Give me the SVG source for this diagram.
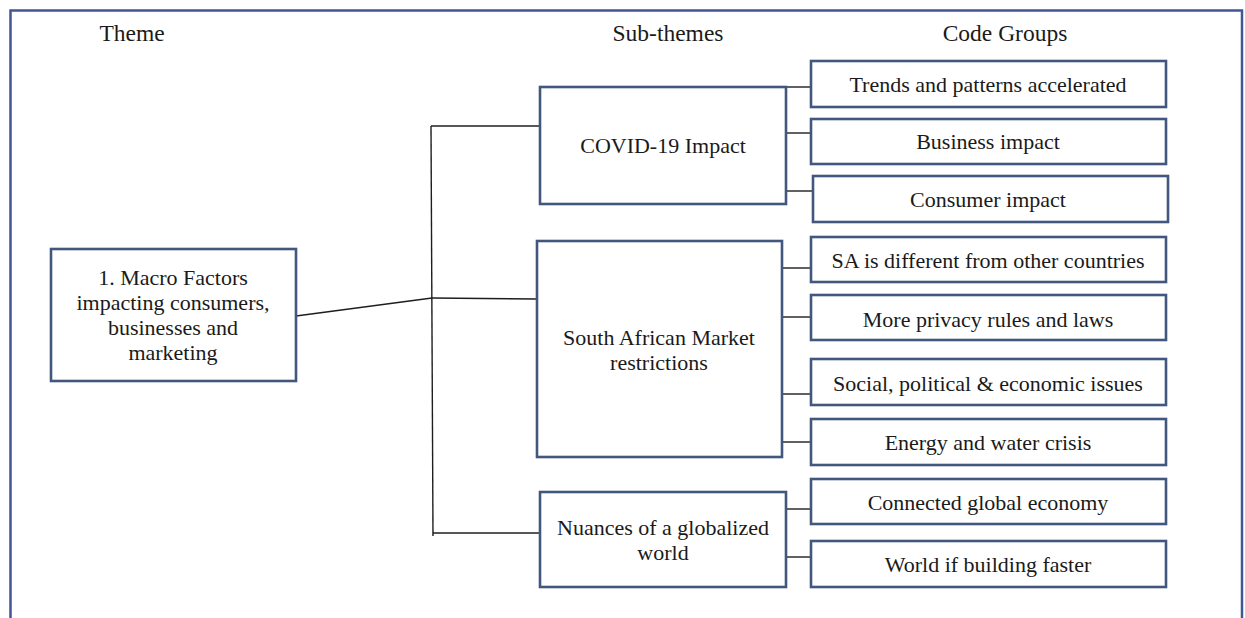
<svg xmlns="http://www.w3.org/2000/svg" width="1245" height="618" viewBox="0 0 1245 618">
  <style>
    .frame { fill: none; stroke: #3f5797; stroke-width: 2.5; }
    .box { fill: #ffffff; stroke: #42577d; stroke-width: 2.6; }
    .link { fill: none; stroke: #1e1e1e; stroke-width: 1.4; }
    .hdr { font-family: "Liberation Serif", "Times New Roman", serif; font-size: 23.5px; fill: #1a1a1a; text-anchor: middle; }
    .lbl { font-family: "Liberation Serif", "Times New Roman", serif; font-size: 22px; fill: #1a1a1a; text-anchor: middle; }
  </style>

  <rect x="0" y="0" width="1245" height="618" fill="#ffffff"/>
  <!-- outer frame, open at the bottom edge -->
  <path class="frame" d="M10.5,640 V10.5 H1242 V640"/>

  <!-- column headings -->
  <g id="headings">
    <text class="hdr" x="132" y="41">Theme</text>
    <text class="hdr" x="668" y="41">Sub-themes</text>
    <text class="hdr" x="1005" y="41">Code Groups</text>
  </g>

  <!-- connectors -->
  <g id="connectors">
    <!-- theme to trunk -->
    <path class="link" d="M296,316 L432,298"/>
    <!-- vertical trunk -->
    <path class="link" d="M431,126 L433,536"/>
    <!-- trunk to sub-themes -->
    <path class="link" d="M431,126 H540"/>
    <path class="link" d="M432,298 L537,299"/>
    <path class="link" d="M433,533 H540"/>
    <!-- COVID-19 to code groups -->
    <path class="link" d="M786,87 H811"/>
    <path class="link" d="M786,133 H811"/>
    <path class="link" d="M786,191 H813"/>
    <!-- South African Market to code groups -->
    <path class="link" d="M782,268 H811"/>
    <path class="link" d="M782,317 H811"/>
    <path class="link" d="M782,394 H811"/>
    <path class="link" d="M782,442 H811"/>
    <!-- globalized world to code groups -->
    <path class="link" d="M786,509 H811"/>
    <path class="link" d="M786,557 H811"/>
  </g>

  <!-- theme -->
  <g id="theme-macro">
    <rect class="box" x="51" y="249" width="245" height="132"/>
    <text class="lbl" x="173" y="285">1. Macro Factors</text>
    <text class="lbl" x="173" y="310">impacting consumers,</text>
    <text class="lbl" x="173" y="335">businesses and</text>
    <text class="lbl" x="173" y="360">marketing</text>
  </g>

  <!-- sub-themes -->
  <g id="sub-covid">
    <rect class="box" x="540" y="87" width="246" height="117"/>
    <text class="lbl" x="663" y="153">COVID-19 Impact</text>
  </g>
  <g id="sub-sa-market">
    <rect class="box" x="537" y="241" width="245" height="216"/>
    <text class="lbl" x="659" y="345">South African Market</text>
    <text class="lbl" x="659" y="370">restrictions</text>
  </g>
  <g id="sub-global">
    <rect class="box" x="540" y="492" width="246" height="95"/>
    <text class="lbl" x="663" y="535">Nuances of a globalized</text>
    <text class="lbl" x="663" y="560">world</text>
  </g>

  <!-- code groups -->
  <g id="code-trends">
    <rect class="box" x="811" y="61" width="355" height="46"/>
    <text class="lbl" x="988" y="91.5">Trends and patterns accelerated</text>
  </g>
  <g id="code-business">
    <rect class="box" x="811" y="119" width="355" height="45"/>
    <text class="lbl" x="988" y="149">Business impact</text>
  </g>
  <g id="code-consumer">
    <rect class="box" x="813" y="176" width="355" height="46"/>
    <text class="lbl" x="988" y="206.5">Consumer impact</text>
  </g>
  <g id="code-sa-different">
    <rect class="box" x="811" y="237" width="355" height="45"/>
    <text class="lbl" x="988" y="267.5">SA is different from other countries</text>
  </g>
  <g id="code-privacy">
    <rect class="box" x="811" y="295" width="355" height="45"/>
    <text class="lbl" x="988" y="326.5">More privacy rules and laws</text>
  </g>
  <g id="code-social">
    <rect class="box" x="811" y="359" width="355" height="46"/>
    <text class="lbl" x="988" y="391">Social, political  &amp; economic issues</text>
  </g>
  <g id="code-energy">
    <rect class="box" x="811" y="419" width="355" height="46"/>
    <text class="lbl" x="988" y="450">Energy and water crisis</text>
  </g>
  <g id="code-connected">
    <rect class="box" x="811" y="479" width="355" height="45"/>
    <text class="lbl" x="988" y="510">Connected global economy</text>
  </g>
  <g id="code-world">
    <rect class="box" x="811" y="541" width="355" height="46"/>
    <text class="lbl" x="988" y="571.5">World if building faster</text>
  </g>
</svg>
